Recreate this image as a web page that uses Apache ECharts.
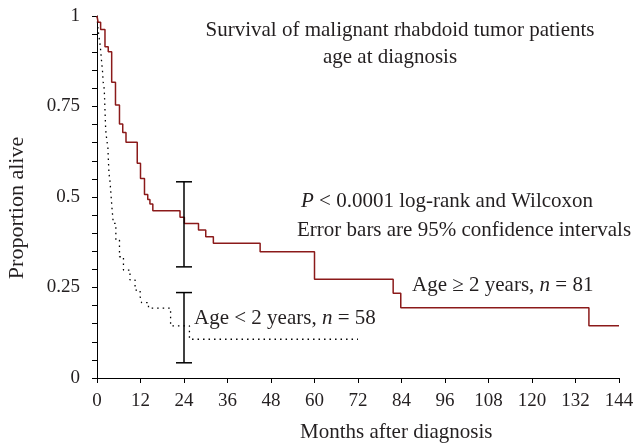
<!DOCTYPE html>
<html>
<head>
<meta charset="utf-8">
<script src="https://cdn.jsdelivr.net/npm/echarts@6/dist/echarts.min.js"></script>
<style>
  html, body { margin: 0; padding: 0; background: #fff; }
  #chart { width: 633px; height: 446px; }
</style>
</head>
<body>
<div id="chart"></div>
<script>
// Age >= 2 years (solid red), Kaplan-Meier steps
const olderMonths = [0, 0.3, 1.0, 2.2, 3.1, 4.05, 5.1, 6.2, 7.1, 8.0, 11.1, 12.0, 13.1, 14.0, 14.6, 15.4, 22.9, 24.1, 28.0, 30.0, 32.1, 45.0, 60.0, 81.7, 83.8, 135.7, 144]
const olderSurv = [1.0, 0.983, 0.963, 0.915, 0.901, 0.817, 0.754, 0.702, 0.678, 0.651, 0.593, 0.551, 0.507, 0.493, 0.481, 0.462, 0.444, 0.427, 0.409, 0.39, 0.372, 0.349, 0.273, 0.234, 0.194, 0.144, 0.144]

// Age < 2 years (dotted black)
const youngMonths = [0, 0.3, 0.8, 1.0, 1.3, 1.5, 1.7, 2.0, 2.2, 2.4, 2.7, 3.0, 3.1, 3.3, 3.6, 3.9, 4.1, 4.5, 5.2, 6.2, 7.3, 9.1, 10.5, 11.9, 12.3, 14.2, 20.3, 25.5, 72]
const youngSurv = [1.0, 0.961, 0.925, 0.906, 0.87, 0.851, 0.818, 0.798, 0.74, 0.685, 0.657, 0.639, 0.611, 0.566, 0.542, 0.501, 0.473, 0.427, 0.381, 0.335, 0.298, 0.271, 0.243, 0.225, 0.208, 0.193, 0.144, 0.107, 0.107]

// 95% confidence intervals at 24 months
const ciMonths = [24, 24]
const ciLower = [0.307, 0.042]
const ciUpper = [0.542, 0.236]

const xTicks = { min: 0, max: 144, interval: 12 }
const yTicks = { min: 0, max: 1, interval: 0.25 }

const serif = '"Liberation Serif", "DejaVu Serif", serif'
const ink = '#231f20'
const red = '#8b1a1a'
const fs = 21

const chart = echarts.init(document.getElementById('chart'))

const zip = (xs, ys) => xs.map((x, i) => [x, ys[i]])
const italic = { i: { fontStyle: 'italic', fontFamily: serif, fontSize: fs, fill: ink } }

const axisCommon = {
  axisLine: { lineStyle: { color: '#000', width: 1 } },
  axisTick: { lineStyle: { color: '#000' }, length: 5 },
  axisLabel: { color: ink, fontFamily: serif, fontSize: 19 },
  splitLine: { show: false },
}

const option = {
  animation: false,
  backgroundColor: '#fff',
  grid: { left: 97, right: 14, top: 16, bottom: 68, outerBoundsMode: 'none' },
  xAxis: {
    type: 'value',
    ...xTicks,
    ...axisCommon,
    axisLabel: { ...axisCommon.axisLabel, margin: 14 },
  },
  yAxis: {
    type: 'value',
    ...yTicks,
    ...axisCommon,
    axisLabel: { ...axisCommon.axisLabel, margin: 17 },
    minorTick: { show: true, splitNumber: 5, length: 5, lineStyle: { color: '#000' } },
  },
  series: [
    {
      type: 'line',
      step: 'end',
      data: zip(youngMonths, youngSurv),
      showSymbol: false,
      lineStyle: { color: '#000', width: 1.3, type: [1.5, 4] },
      z: 2,
    },
    {
      type: 'line',
      step: 'end',
      data: zip(olderMonths, olderSurv),
      showSymbol: false,
      lineStyle: { color: red, width: 1.5 },
      z: 3,
    },
    {
      type: 'custom',
      data: ciMonths.map((m, i) => [m, ciLower[i], ciUpper[i]]),
      renderItem: (params, api) => {
        const top = api.coord([api.value(0), api.value(2)])
        const bot = api.coord([api.value(0), api.value(1)])
        const half = 8
        const style = { stroke: '#000', lineWidth: 1.5 }
        return {
          type: 'group',
          children: [
            { type: 'line', shape: { x1: top[0], y1: top[1], x2: bot[0], y2: bot[1] }, style },
            { type: 'line', shape: { x1: top[0] - half, y1: top[1], x2: top[0] + half, y2: top[1] }, style },
            { type: 'line', shape: { x1: bot[0] - half, y1: bot[1], x2: bot[0] + half, y2: bot[1] }, style },
          ],
        }
      },
      z: 4,
    },
  ],
  graphic: [
    {
      type: 'text', x: 400, y: 30,
      style: { text: 'Survival of malignant rhabdoid tumor patients', fill: ink, font: fs + 'px ' + serif, align: 'center', verticalAlign: 'middle' },
    },
    {
      type: 'text', x: 390, y: 57,
      style: { text: 'age at diagnosis', fill: ink, font: fs + 'px ' + serif, align: 'center', verticalAlign: 'middle' },
    },
    {
      type: 'text', x: 301, y: 201,
      style: { text: '{i|P} < 0.0001 log-rank and Wilcoxon', fill: ink, font: fs + 'px ' + serif, verticalAlign: 'middle', rich: italic },
    },
    {
      type: 'text', x: 297, y: 230,
      style: { text: 'Error bars are 95% confidence intervals', fill: ink, font: fs + 'px ' + serif, verticalAlign: 'middle' },
    },
    {
      type: 'text', x: 412, y: 285,
      style: { text: 'Age ≥ 2 years, {i|n} = 81', fill: ink, font: fs + 'px ' + serif, verticalAlign: 'middle', rich: italic },
    },
    {
      type: 'text', x: 194, y: 318,
      style: { text: 'Age < 2 years, {i|n} = 58', fill: ink, font: fs + 'px ' + serif, verticalAlign: 'middle', rich: italic },
    },
    {
      type: 'text', x: 300, y: 432,
      style: { text: 'Months after diagnosis', fill: ink, font: fs + 'px ' + serif, verticalAlign: 'middle' },
    },
    {
      type: 'text', x: 17, y: 208, rotation: Math.PI / 2,
      style: { text: 'Proportion alive', fill: ink, font: '22px ' + serif, align: 'center', verticalAlign: 'middle' },
    },
  ],
}

chart.setOption(option)
</script>
</body>
</html>
